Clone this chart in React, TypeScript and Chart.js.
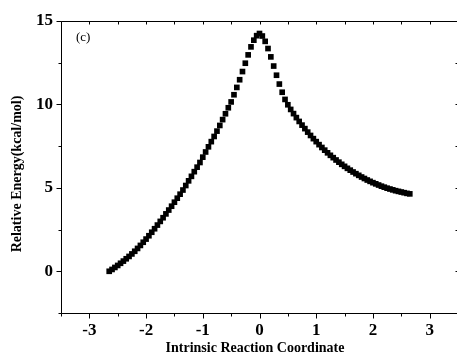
import React, { useEffect, useRef } from "react";
import { Chart, registerables } from "chart.js";

Chart.register(...registerables);

// Intrinsic reaction coordinate (x) and relative energy in kcal/mol (y)
const IRC_X: number[] = [
  -2.65, -2.6, -2.55, -2.5, -2.45, -2.4, -2.35, -2.3, -2.25, -2.2, -2.15, -2.1, -2.05, -2.0,
  -1.95, -1.9, -1.85, -1.8, -1.75, -1.7, -1.65, -1.6, -1.55, -1.5, -1.45, -1.4, -1.35, -1.3,
  -1.25, -1.2, -1.15, -1.1, -1.05, -1.0, -0.95, -0.9, -0.85, -0.8, -0.75, -0.7, -0.65, -0.6,
  -0.55, -0.5, -0.45, -0.4, -0.35, -0.3, -0.25, -0.2, -0.15, -0.1, -0.05, 0.0,
  0.05, 0.1, 0.15, 0.2, 0.25, 0.3, 0.35, 0.4, 0.45, 0.5, 0.55, 0.6, 0.65, 0.7, 0.75, 0.8,
  0.85, 0.9, 0.95, 1.0, 1.05, 1.1, 1.15, 1.2, 1.25, 1.3, 1.35, 1.4, 1.45, 1.5, 1.55, 1.6,
  1.65, 1.7, 1.75, 1.8, 1.85, 1.9, 1.95, 2.0, 2.05, 2.1, 2.15, 2.2, 2.25, 2.3, 2.35, 2.4,
  2.45, 2.5, 2.55, 2.6, 2.65,
];

const ENERGY: number[] = [
  0.0, 0.11, 0.23, 0.35, 0.48, 0.61, 0.75, 0.89, 1.04, 1.2, 1.37, 1.55, 1.74, 1.93,
  2.13, 2.34, 2.55, 2.77, 2.99, 3.21, 3.44, 3.67, 3.9, 4.14, 4.38, 4.62, 4.87, 5.14,
  5.42, 5.69, 5.97, 6.24, 6.52, 6.84, 7.15, 7.46, 7.77, 8.08, 8.4, 8.74, 9.09, 9.44,
  9.8, 10.15, 10.58, 11.02, 11.48, 11.97, 12.47, 12.97, 13.45, 13.85, 14.12, 14.25,
  14.1, 13.78, 13.35, 12.85, 12.3, 11.75, 11.22, 10.73, 10.3, 9.98, 9.7, 9.45, 9.21, 8.98, 8.76, 8.55,
  8.34, 8.14, 7.95, 7.77, 7.59, 7.42, 7.26, 7.1, 6.95, 6.81, 6.67, 6.54, 6.41, 6.29, 6.17, 6.06,
  5.95, 5.85, 5.75, 5.65, 5.56, 5.47, 5.39, 5.31, 5.24, 5.17, 5.1, 5.04, 4.98, 4.93, 4.88, 4.83,
  4.79, 4.75, 4.71, 4.67, 4.64,
];

const X_MIN = -3.5;
const X_MAX = 3.5;
const Y_MIN = -2.5;
const Y_MAX = 15;
const X_MAJOR_TICKS = [-3, -2, -1, 0, 1, 2, 3];
const X_MINOR_TICKS = [-3.5, -2.5, -1.5, -0.5, 0.5, 1.5, 2.5, 3.5];
const Y_MAJOR_TICKS = [0, 5, 10, 15];
const Y_MINOR_TICKS = [-2.5, 2.5, 7.5, 12.5];

const X_TITLE = "Intrinsic Reaction Coordinate";
const Y_TITLE = "Relative Energy(kcal/mol)";
const PANEL_LABEL = "(c)";

const SERIF = "'Liberation Serif', 'Times New Roman', serif";

const framePlugin = {
  id: "frame",
  afterDraw(chart: any) {
    const { ctx, chartArea: a, scales } = chart;
    const xs = scales.x;
    const ys = scales.y;
    const L = Math.round(a.left) + 0.5;
    const R = Math.round(a.right) + 0.5;
    const T = Math.round(a.top) + 0.5;
    const B = Math.round(a.bottom) + 0.5;
    ctx.save();
    ctx.strokeStyle = "#000";
    ctx.lineWidth = 1;
    ctx.beginPath();
    ctx.rect(L, T, R - L, B - T);
    const xTick = (v: number, len: number) => {
      const p = Math.round(xs.getPixelForValue(v)) + 0.5;
      ctx.moveTo(p, B);
      ctx.lineTo(p, B + len);
      ctx.moveTo(p, T);
      ctx.lineTo(p, T + 3);
    };
    X_MAJOR_TICKS.forEach((v) => xTick(v, 5));
    X_MINOR_TICKS.forEach((v) => xTick(v, 3));
    const yTick = (v: number, len: number) => {
      const p = Math.round(ys.getPixelForValue(v)) + 0.5;
      ctx.moveTo(L, p);
      ctx.lineTo(L - len, p);
      ctx.moveTo(R, p);
      ctx.lineTo(R - 3, p);
    };
    Y_MAJOR_TICKS.forEach((v) => yTick(v, 5));
    Y_MINOR_TICKS.forEach((v) => yTick(v, 3));
    ctx.stroke();

    ctx.fillStyle = "#000";
    ctx.font = `bold 14px ${SERIF}`;
    ctx.textAlign = "center";
    ctx.textBaseline = "alphabetic";
    ctx.fillText(X_TITLE, 255, 352);
    ctx.save();
    ctx.translate(21, 174);
    ctx.rotate(-Math.PI / 2);
    ctx.fillText(Y_TITLE, 0, 0);
    ctx.restore();
    ctx.font = `13px ${SERIF}`;
    ctx.textAlign = "left";
    ctx.textBaseline = "middle";
    ctx.fillText(PANEL_LABEL, a.left + 15, a.top + 17);
    ctx.restore();
  },
};

export default function App() {
  const ref = useRef<HTMLCanvasElement | null>(null);
  useEffect(() => {
    if (!ref.current) return;
    const points = IRC_X.map((x, i) => ({ x, y: ENERGY[i] }));
    const tickFont = { family: SERIF, size: 17, weight: "bold" as const };
    const chart = new Chart(ref.current, {
      type: "scatter",
      data: {
        datasets: [
          {
            data: points,
            pointStyle: "rect",
            pointRadius: 4,
            pointHoverRadius: 4,
            pointBackgroundColor: "#000",
            pointBorderWidth: 0,
            showLine: false,
          },
        ],
      },
      options: {
        responsive: false,
        animation: false,
        devicePixelRatio: 1,
        layout: { padding: { top: 21, right: 2, left: 0, bottom: 0 } },
        plugins: { legend: { display: false }, tooltip: { enabled: false } },
        scales: {
          x: {
            type: "linear",
            min: X_MIN,
            max: X_MAX,
            afterFit: (s: any) => {
              s.height = 43;
            },
            afterBuildTicks: (s: any) => {
              s.ticks = X_MAJOR_TICKS.map((v) => ({ value: v }));
            },
            grid: { display: false, drawTicks: false },
            border: { display: false },
            ticks: {
              color: "#000",
              font: tickFont,
              padding: 7,
              maxRotation: 0,
              autoSkip: false,
              callback: (v: any) => String(v),
            },
          },
          y: {
            type: "linear",
            min: Y_MIN,
            max: Y_MAX,
            afterFit: (s: any) => {
              s.width = 61;
            },
            afterBuildTicks: (s: any) => {
              s.ticks = Y_MAJOR_TICKS.map((v) => ({ value: v }));
            },
            grid: { display: false, drawTicks: false },
            border: { display: false },
            ticks: {
              color: "#000",
              font: tickFont,
              padding: 8,
              autoSkip: false,
              callback: (v: any) => String(v),
            },
          },
        },
      },
      plugins: [framePlugin],
    });
    return () => chart.destroy();
  }, []);
  return (
    <div
      style={{
        position: "fixed",
        left: 0,
        top: 0,
        width: 457,
        height: 356,
        overflow: "hidden",
        background: "#fff",
      }}
    >
      <canvas ref={ref} width={462} height={356} style={{ display: "block", width: 462, height: 356 }} />
    </div>
  );
}
